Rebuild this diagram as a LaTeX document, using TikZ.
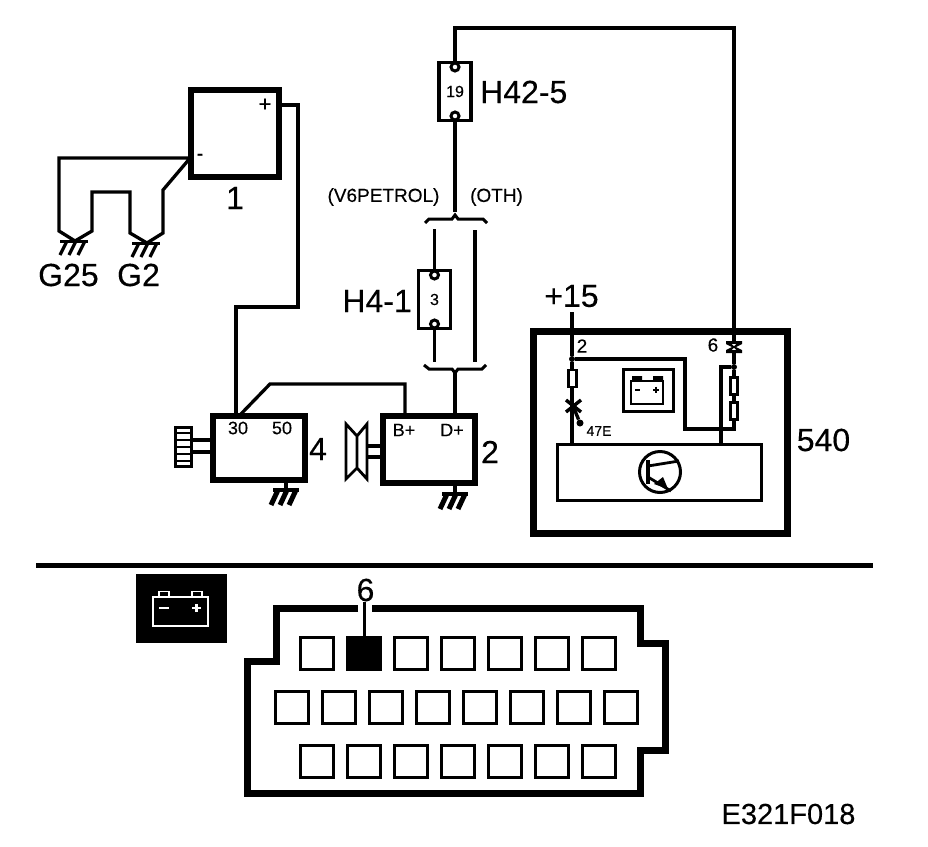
\documentclass[tikz,border=0pt]{standalone}
\usepackage{fontspec}
\setmainfont[FakeBold=0.25]{Liberation Sans}
\AtBeginDocument{\addfontfeature{FakeBold=0.25}}
\newcommand{\fsz}[1]{\fontsize{#1}{#1}\selectfont\addfontfeature{FakeBold=0.25}}
\tikzset{
  wire/.style={line width=3.3pt,line join=miter},
  heavybox/.style={draw,rectangle,line width=6pt,inner sep=0pt,outer sep=0pt},
  fusebox/.style={draw,rectangle,line width=3.6pt,inner sep=0pt,outer sep=0pt,minimum width=32pt,minimum height=58pt,font=\fsz{16}},
  hole/.style={draw,circle,fill=white,line width=3pt,inner sep=0pt,minimum size=8pt},
  socket/.style={draw,rectangle,line width=3.2pt,inner sep=0pt,minimum size=32.5pt},
  res/.style={draw,rectangle,fill=white,line width=2.8pt,inner sep=0pt,minimum width=7.5pt,minimum height=17pt},
  big/.style={inner sep=0pt,font=\fsz{32}},
  mid/.style={inner sep=0pt,font=\fsz{19}},
  small/.style={inner sep=0pt,font=\fsz{18}},
  dotj/.style={circle,fill,inner sep=0pt,minimum size=6pt},
  gnd/.pic={
    \draw[line width=3pt] (-15,0) -- (13,0);
    \draw[line width=3.2pt] (-8,0) -- (-15,14) (1,0) -- (-6,14) (10,0) -- (3,14);
  },
  gndheavy/.pic={
    \draw[line width=3.4pt] (-13,0) -- (13,0);
    \draw[line width=5pt] (-8,0) -- (-15,15) (1,0) -- (-6,15) (10,0) -- (3,15);
  },
  xconn/.pic={
    \fill (-8,-6) -- (8,-6) -- (8,-3) -- (2,0) -- (8,3) -- (8,6) -- (-8,6) -- (-8,3) -- (-2,0) -- (-8,-3) -- cycle;
    \fill[white] (-2,-2.8) -- (2,-2.8) -- (0,-1) -- cycle (-2,2.8) -- (2,2.8) -- (0,1) -- cycle;
  }
}
\begin{document}
\begin{tikzpicture}[x=1pt,y=-1pt]
\useasboundingbox[fill=white] (0,0) rectangle (928,846);

%% component 1 and grounds
\node[heavybox,minimum width=88pt,minimum height=87pt] (b1) at (235,133.5) {};
\node[inner sep=0pt,font=\fsz{22}] (b1p) at (265,105) {+};
\node[inner sep=0pt,font=\fsz{20}] (b1m) at (200,157) {-};
\node[big] (n1) at (235,198) {1};
\coordinate (b1plus) at (b1.east |- b1p);
\coordinate (b1minus) at (b1.west |- b1m);
\pic (g25) at (75,241) {gnd};
\pic (g2) at (147,243) {gnd};
\coordinate (g25c) at (75,241);
\coordinate (g2c) at (147,243);
\node[big,anchor=west] (tg25) at (38,275) {G25};
\node[big,anchor=west] (tg2) at (117,275) {G2};
\draw[wire] (b1minus |- 0,158) -- (59,158) -- (59,231) -- (g25c) -- (92,231) -- (92,192) -- (130,192) -- (130,233) -- (g2c) -- (163,233) -- (163,190) -- (b1minus);

%% component 4
\node[heavybox,minimum width=92pt,minimum height=64pt] (b4) at (259,448) {};
\node[small] (t30) at (238,428) {30};
\node[small] (t50) at (282,428) {50};
\node[big] (n4) at (318,449) {4};
\pic (g4) at (286,490) {gndheavy};
\coordinate (g4c) at (286,490);
\draw[wire] (b4.south -| g4c) -- (g4c);
\node[draw,rectangle,line width=3pt,inner sep=0pt,minimum width=16pt,minimum height=39pt] (gear) at (183.5,446.5) {};
\foreach \yy in {433,440,447,454,461}{\draw[line width=2.6pt] (175,\yy) -- (192,\yy);}
\draw[wire] (gear.east |- 0,440) -- (b4.west |- 0,440);
\draw[wire] (gear.east |- 0,452) -- (b4.west |- 0,452);

%% component 2
\node[heavybox,minimum width=92pt,minimum height=67pt] (b2) at (429,449.5) {};
\node[small] (tb) at (404,430) {B+};
\node[small] (td) at (452,430) {D+};
\node[big] (n2) at (490,452) {2};
\pic (g2b) at (455,494) {gndheavy};
\coordinate (g2bc) at (455,494);
\draw[wire] (b2.south -| g2bc) -- (g2bc);
\coordinate (pulley) at (367,451);
\draw[line width=2.8pt,line join=miter] (346,424) -- (357,436) -- (367,424) -- (367,479) -- (357,468) -- (346,479) -- cycle (357,436) -- (357,468);
\draw[wire] (pulley |- 0,446) -- (b2.west |- 0,446);
\draw[wire] (pulley |- 0,457) -- (b2.west |- 0,457);

%% fuses
\node[fusebox] (f19) at (455,91.5) {19};
\node[hole] (f19a) at (455,67) {};
\node[hole] (f19b) at (455,116) {};
\node[big,anchor=west] (t425) at (480,92) {H42-5};
\node[fusebox] (f3) at (434.5,299.5) {3};
\node[hole] (f3a) at (434.5,275) {};
\node[hole] (f3b) at (434.5,324) {};
\node[big,anchor=east] (t41) at (412,301) {H4-1};
\node[mid] (tv6) at (383.5,197) {(V6PETROL)};
\node[mid] (toth) at (496.5,197) {(OTH)};

%% brackets
\coordinate (brt) at (455,215);
\coordinate (brb) at (455,373);
\draw[line width=3pt] (425,223) -- (429,219) -- (452,219) -- (brt) -- (458,219) -- (483,219) -- (487,223);
\draw[line width=3pt] (424,365) -- (429,369) -- (452,369) -- (brb) -- (458,369) -- (482,369) -- (486,365);
\coordinate (brl1) at (434.5,229);
\coordinate (brr1) at (475,230);
\coordinate (brl2) at (434.5,362);
\coordinate (brr2) at (475,362);
\draw[wire] (brl1) -- (f3a);
\draw[wire] (f3b) -- (brl2);
\draw[wire] (brr1) -- (brr2);
\draw[wire] (f19b) -- (brt |- 0,212);
\draw[wire] (brb) -- (b2.north -| brb);

%% box 540
\node[heavybox,line width=7pt,minimum width=254pt,minimum height=202pt] (b540) at (660.5,432.5) {};
\node[draw,rectangle,line width=2.6pt,inner sep=0pt,minimum width=204pt,minimum height=56pt] (ecu) at (659.5,472.5) {};
\node[big] (t540) at (823.5,440) {540};
\node[big] (t15) at (571.5,296) {+15};
\node[inner sep=0pt,font=\fsz{19}] (t2in) at (582,346) {2};
\node[inner sep=0pt,font=\fsz{19}] (t6in) at (713,345) {6};
\node[inner sep=0pt,font=\fsz{14}] (t47) at (599,431) {47E};

\node[dotj] (j1) at (572,359) {};
\node[dotj] (j2) at (734,367) {};
\coordinate (in15) at (572,312);
\coordinate (ecuL) at (572,444);
\coordinate (ecuR) at (721,444);
\pic (cx6) at (734,347) {xconn};
\coordinate (cx6c) at (734,347);
\draw[wire] (in15) -- (j1) -- (ecuL);
\draw[wire] (j1) -- (685,359) -- (685,429) -- (734,429) -- (j2);
\draw[wire] (j2) -- (721,367) -- (ecuR);
\draw[wire] (j2) -- (734,353);
\node[res] (r1) at (572.5,378.5) {};
\node[res] (r2) at (734,386) {};
\node[res] (r3) at (734,411) {};

%% 47E connector
\coordinate (cx47) at (573,406);
\draw[line width=3.4pt] (566,400) -- (581,412) (581,400) -- (566,412);
\node[dotj,minimum size=7pt] (d47) at (580,423) {};
\draw[line width=3.4pt] (cx47) -- (d47);

%% battery symbol in box
\node[draw,rectangle,line width=3pt,inner sep=0pt,minimum width=50pt,minimum height=42pt] (bicon) at (648,390) {};
\node[draw,rectangle,line width=2.4pt,inner sep=0pt,minimum width=32pt,minimum height=23pt] (bcell) at (647,392.5) {};
\fill (632,376) rectangle (642,381) (653,376) rectangle (663,381);
\draw[line width=2pt] (635,390) -- (640,390) (653,389.5) -- (659,389.5) (656,386.5) -- (656,392.5);

%% transistor
\node[draw,circle,line width=3pt,inner sep=0pt,minimum size=41pt] (tr) at (660,472) {};
\draw[line width=3.2pt] (648,460) -- (648,484);
\draw[line width=2.8pt] (648,466) -- (tr.30) (648,477) -- (tr.-60);
\fill (668,489) -- (654,484) -- (663,477) -- cycle;

%% separator
\coordinate (sepL) at (36,565);
\coordinate (sepR) at (873,565);
\draw[line width=5pt] (sepL) -- (sepR);

%% black battery
\node[fill=black,rectangle,inner sep=0pt,minimum width=91pt,minimum height=69pt] (kb) at (181.5,608.5) {};
\node[draw=white,rectangle,line width=1.8pt,inner sep=0pt,minimum width=55pt,minimum height=29pt] (kbc) at (180.5,611.5) {};
\draw[white,line width=1.8pt] (159,597) -- (159,591.5) -- (169,591.5) -- (169,597) (192,597) -- (192,591.5) -- (202,591.5) -- (202,597);
\draw[white,line width=2.4pt] (159,608) -- (169,608) (192,608) -- (201,608) (196.5,604) -- (196.5,612);

%% connector
\draw[line width=7pt,line join=miter] (358,608) -- (276,608) -- (276,661) -- (247,661) -- (247,793) -- (640.5,793) -- (640.5,750) -- (665,750) -- (665,643) -- (640.5,643) -- (640.5,608) -- (372,608);
\foreach \cx [count=\i] in {317,364,411,458,505,552,599}{
  \ifnum\i=2
    \node[socket,fill=black] (s1\i) at (\cx,653.5) {};
  \else
    \node[socket] (s1\i) at (\cx,653.5) {};
  \fi
  \node[socket] (s3\i) at (\cx,761.5) {};
}
\foreach \cx [count=\i] in {292,339,386,433,480,527,574,621}{
  \node[socket] (s2\i) at (\cx,707.5) {};
}
\node[big] (t6) at (365.5,590) {6};
\draw[line width=3pt] (s12.north) -- (t6.south -| s12.north);

%% long connectors
\draw[wire] (b1plus) -- (298,105) -- (298,307) -- (236,307) -- (b4.north -| 236,0);
\draw[wire] (b4.north -| 239,0) -- (270,384) -- (405,384) -- (b2.north -| 405,0);
\draw[wire] (f19a) -- (455,28) -- (734,28) -- (734,341);

\node[inner sep=0pt,font=\fsz{29}] (code) at (788.5,814) {E321F018};
\end{tikzpicture}
\end{document}
